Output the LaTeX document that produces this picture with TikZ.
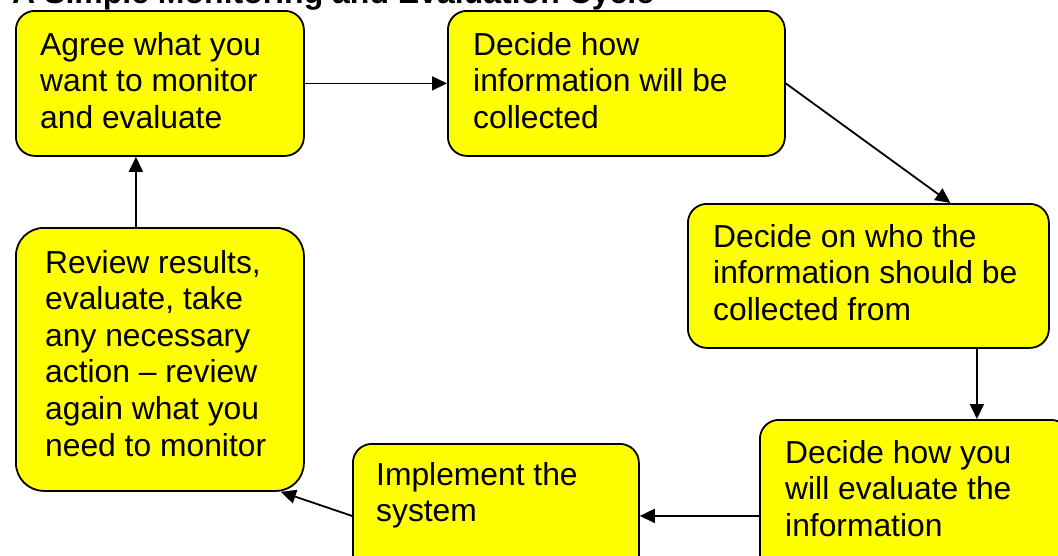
\documentclass[tikz,border=0pt]{standalone}
\usepackage{fontspec}
\setmainfont{Liberation Sans}
\usetikzlibrary{arrows.meta}
\definecolor{boxyellow}{RGB}{255,255,0}
\begin{document}
\begin{tikzpicture}[x=1pt,y=-1pt,
  box/.style={draw=black, line width=1.8pt, fill=boxyellow, rounded corners=#1, inner sep=0pt, anchor=north west},
  box/.default=19pt,
  txt/.style={anchor=base west, inner sep=0pt, font=\fontsize{31.8}{36.6}\selectfont},
  arr/.style={line width=1.8pt, -{Triangle[length=15pt,width=14pt]}}]
\clip (0,0) rectangle (1058,555);
\fill[white] (0,0) rectangle (1058,555);
% title (cut at top)
\node[anchor=base west, inner sep=0pt, font=\bfseries\fontsize{32}{38}\selectfont] (title) at (12,3) {A Simple Monitoring and Evaluation Cycle};
% boxes
\node[box, minimum width=288pt, minimum height=145pt] (b1) at (15,10) {};
\node[box, minimum width=337pt, minimum height=145pt] (b2) at (447,10) {};
\node[box, minimum width=361pt, minimum height=144pt] (b3) at (687,203) {};
\node[box, minimum width=310pt, minimum height=192pt] (b4) at (759,419) {};
\node[box, minimum width=286pt, minimum height=144pt] (b5) at (352,443) {};
\node[box=28pt, minimum width=288pt, minimum height=263pt] (b6) at (15,227) {};
% texts
\node[txt] (t1) at (40,55) {\parbox[t]{260pt}{Agree what you\\want to monitor\\and evaluate}};
\node[txt] (t2) at (473,55) {\parbox[t]{300pt}{Decide how\\information will be\\collected}};
\node[txt] (t3) at (713,247) {\parbox[t]{330pt}{Decide on who the\\information should be\\collected from}};
\node[txt] (t4) at (785,463) {\parbox[t]{270pt}{Decide how you\\will evaluate the\\information}};
\node[txt] (t5) at (376,485) {\parbox[t]{250pt}{Implement the\\system}};
\node[txt] (t6) at (45,273) {\parbox[t]{255pt}{Review results,\\evaluate, take\\any necessary\\action -- review\\again what you\\need to monitor}};
% connectors
\draw[arr] (b1.east) -- (b2.west);
\draw[arr] (b2.east) -- ([xshift=82pt]b3.north);
\draw[arr] ([xshift=108.5pt]b3.south) -- ([xshift=108.5pt]b3.south |- b4.north);
\draw[arr] (b4.west) -- (b5.east);
\draw[arr] (b5.west) -- ([xshift=121pt]b6.south);
\draw[arr] ([xshift=-24pt]b6.north) -- ([xshift=-24pt]b1.south);
\end{tikzpicture}
\end{document}
